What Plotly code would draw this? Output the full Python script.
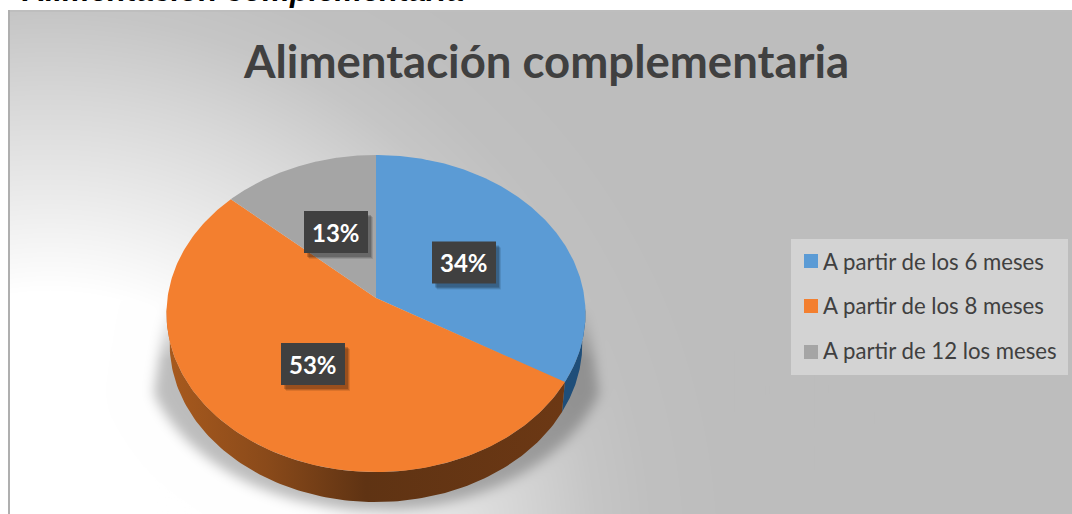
import base64, struct, zlib
import numpy as np
import plotly.graph_objects as go

categories = ["A partir de los 6 meses", "A partir de los 8 meses", "A partir de 12 los meses"]
values = [33.5, 53.2, 13.3]
labels = ["34%", "53%", "13%"]
colors = ["#5B9BD5", "#F37F2F", "#A5A5A5"]
wall_stops = [
    [[0, "#1F4E79"], [1, "#1F4E79"]],
    [[0, "#A85A1E"], [0.25, "#8A4A1A"], [0.5, "#5F3313"], [1, "#6C3814"]],
    [[0, "#777777"], [1, "#666666"]],
]
title_text = "Alimentación complementaria"
heading_text = "Alimentación complementaria"

W, H = 1072, 514
AX, AY, A, B, K = 376.0, 298.0, 208.5, 157.0, 0.0978
DEPTH, SHRINK = 30.0, 0.985
LABEL_CENTERS = [(464, 262.5), (313, 364), (336, 232)]
BOX_W, BOX_H = 64, 42
LEGEND_ROWS = [261, 306, 352]


def rim(t):
    u, v = np.sin(t), np.cos(t)
    w = 1 + K * v
    return AX + A * u / w, AY - B * v / w


def blur(img, s):
    fy = np.fft.fftfreq(img.shape[0])[:, None]
    fx = np.fft.fftfreq(img.shape[1])[None, :]
    g = np.exp(-2 * (np.pi * s) ** 2 * (fx ** 2 + fy ** 2))
    return np.fft.ifft2(np.fft.fft2(img) * g).real


def background():
    yy, xx = np.mgrid[0:H, 0:W]
    d = np.hypot(xx - 50, yy - 560)
    g = np.interp(d, [270, 361, 461, 546, 600, 700], [255, 236, 216, 198, 192, 189])
    sh = (((xx - 376) / 235.0) ** 2 + ((yy - 338) / 172.0) ** 2 < 1).astype(float)
    sh *= np.abs(xx - 376) < 209 + np.clip(yy - 300, 0, None) * 14 / 95.0
    sh *= yy > 300
    sh = blur(sh, 6) * np.clip((yy - 300) / 60.0, 0, 1)
    g = g * (1 - 0.26 * sh)
    g[:10, :] = 255
    g[:, :8] = 255
    g[10:12, 8:] = 190
    g[10:, 8:10] = 175
    return g


def png_uri(g):
    a = np.clip(g, 0, 255).astype(np.uint8)
    raw = b"".join(b"\x00" + a[i].tobytes() for i in range(a.shape[0]))
    def chunk(tag, data):
        return struct.pack(">I", len(data)) + tag + data + struct.pack(">I", zlib.crc32(tag + data))
    head = struct.pack(">IIBBBBB", a.shape[1], a.shape[0], 8, 0, 0, 0, 0)
    png = b"\x89PNG\r\n\x1a\n" + chunk(b"IHDR", head) + chunk(b"IDAT", zlib.compress(raw, 9)) + chunk(b"IEND", b"")
    return "data:image/png;base64," + base64.b64encode(png).decode()


fig = go.Figure()
total = sum(values)
edges = np.cumsum([0] + values) / total * 2 * np.pi
for i in range(len(values)):
    lo, hi = max(edges[i], np.pi * 0.52), min(edges[i + 1], np.pi * 1.48)
    if hi <= lo:
        continue
    t = np.linspace(lo, hi, 120)
    x, y = rim(t)
    xb = AX + (x - AX) * SHRINK
    yb = y + DEPTH
    fig.add_trace(go.Scatter(
        x=np.r_[x, xb[::-1]], y=np.r_[y, yb[::-1]], mode="lines", fill="toself",
        line=dict(width=0), hoverinfo="skip", showlegend=False,
        fillgradient=dict(type="horizontal", colorscale=wall_stops[i]),
    ))
for i in range(len(values)):
    t = np.linspace(edges[i], edges[i + 1], 200)
    x, y = rim(t)
    fig.add_trace(go.Scatter(
        x=np.r_[AX, x, AX], y=np.r_[AY, y, AY], mode="lines", fill="toself",
        fillcolor=colors[i], line=dict(width=0), hoverinfo="skip", showlegend=False,
    ))
for i, name in enumerate(categories):
    fig.add_trace(go.Scatter(
        x=[None], y=[None], mode="markers", name=name, legendgroup=name,
        marker=dict(symbol="square", size=14, color="rgba(0,0,0,0)"),
    ))

shapes = [dict(type="rect", xref="x", yref="y", layer="above", x0=791, x1=1068, y0=239, y1=375,
               fillcolor="#D3D3D3", line_width=0)]
for i, yc in enumerate(LEGEND_ROWS):
    shapes.append(dict(type="rect", xref="x", yref="y", layer="above", x0=804, x1=818, y0=yc - 7, y1=yc + 7,
                       fillcolor=colors[i], line_width=0))
annotations = []
for i, (cx, cy) in enumerate(LABEL_CENTERS):
    for off, op in ((6, 0.10), (5, 0.14), (4, 0.18)):
        shapes.append(dict(type="rect", xref="x", yref="y", layer="above",
                           x0=cx - BOX_W / 2 + off - 1, x1=cx + BOX_W / 2 + off - 1,
                           y0=cy - BOX_H / 2 + off, y1=cy + BOX_H / 2 + off,
                           fillcolor=f"rgba(0,0,0,{op})", line_width=0))
    shapes.append(dict(type="rect", xref="x", yref="y", layer="above",
                       x0=cx - BOX_W / 2, x1=cx + BOX_W / 2,
                       y0=cy - BOX_H / 2, y1=cy + BOX_H / 2,
                       fillcolor="#404040", line_width=0))
    annotations.append(dict(x=cx, y=cy, xref="x", yref="y", showarrow=False,
                            text=f"<b>{labels[i]}</b>",
                            font=dict(family="Lato", size=24, color="#FFFFFF")))
annotations.append(dict(x=546, y=60, xref="x", yref="y", showarrow=False,
                        text=f"<b>{title_text}</b>",
                        font=dict(family="Lato", size=45.5, color="#404040")))
annotations.append(dict(x=20, y=10, xref="x", yref="y", showarrow=False, xanchor="left", yanchor="bottom",
                        text=f"<b><i>{heading_text}</i></b>",
                        font=dict(family="Liberation Sans", size=31, color="#000000")))

fig.update_layout(
    width=W, height=H, margin=dict(l=0, r=0, t=0, b=0, pad=0),
    paper_bgcolor="#FFFFFF", plot_bgcolor="rgba(0,0,0,0)",
    xaxis=dict(range=[0, W], visible=False, fixedrange=True),
    yaxis=dict(range=[H, 0], visible=False, fixedrange=True),
    shapes=shapes, annotations=annotations,
    images=[dict(source=png_uri(background()), xref="x", yref="y", x=0, y=0, sizex=W, sizey=H,
                 sizing="stretch", xanchor="left", yanchor="top", layer="below")],
    legend=dict(x=783 / W, y=1 - 240 / H, xanchor="left", yanchor="top",
                bgcolor="rgba(0,0,0,0)", borderwidth=0, tracegroupgap=13, itemsizing="constant",
                font=dict(family="Lato", size=22.2, color="#404040")),
)
fig.write_html("out.html", config=dict(displayModeBar=False),
               post_script="document.body.style.margin='0';document.documentElement.style.overflow='hidden';")
